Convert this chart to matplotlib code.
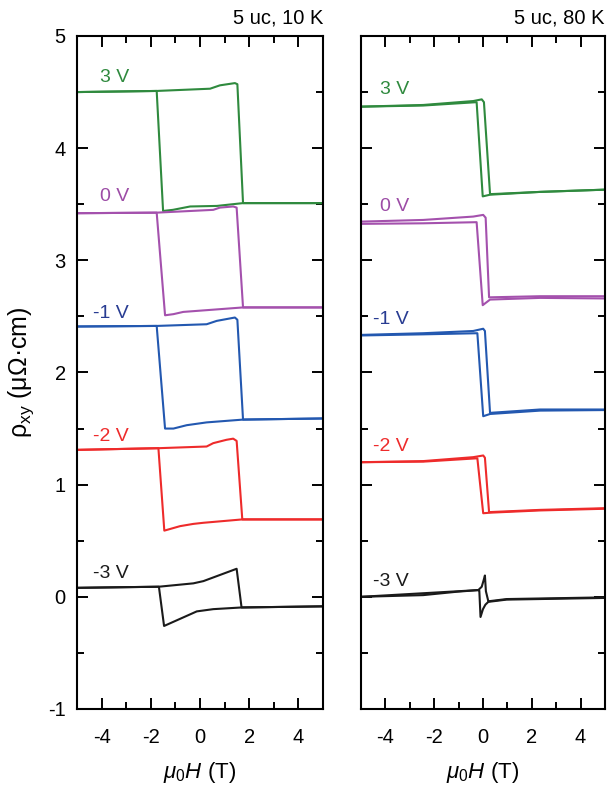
import numpy as np
import matplotlib
matplotlib.use("Agg")
import matplotlib.pyplot as plt
from matplotlib.ticker import MultipleLocator

plt.rcParams['font.family'] = ['Liberation Sans', 'DejaVu Sans']
plt.rcParams['mathtext.fontset'] = 'custom'
plt.rcParams['mathtext.rm'] = 'Liberation Sans'
plt.rcParams['mathtext.it'] = 'Liberation Sans:italic'
plt.rcParams['mathtext.bf'] = 'Liberation Sans:bold'
plt.rcParams['axes.unicode_minus'] = False

gates = ["3 V", "0 V", "-1 V", "-2 V", "-3 V"]
line_colors = ["#2f8a3e", "#a451ad", "#2358b0", "#ee2b2b", "#1a1a1a"]
text_colors = ["#2f8a3e", "#9c4ca6", "#283c92", "#ee2b2b", "#1a1a1a"]

# ---- 5 uc, 10 K : sweep up (-5 -> +5) and sweep down (+5 -> -5)
h10_up = [
    [-5, -1.76, 0.41, 0.81, 1.42, 1.52, 1.75, 5],
    [-5, -1.76, 0.54, 0.81, 1.35, 1.49, 1.75, 5],
    [-5, -1.76, 0.27, 0.68, 1.42, 1.52, 1.75, 5],
    [-5, -1.69, 0.27, 0.54, 1.08, 1.35, 1.49, 1.72, 5],
    [-5, -1.67, -0.27, 0.14, 1.49, 1.69, 5],
]
r10_up = [
    [4.50, 4.51, 4.53, 4.56, 4.58, 4.57, 3.51, 3.51],
    [3.42, 3.425, 3.45, 3.47, 3.48, 3.47, 2.58, 2.58],
    [2.41, 2.415, 2.43, 2.46, 2.49, 2.47, 1.58, 1.59],
    [1.31, 1.325, 1.34, 1.37, 1.40, 1.41, 1.39, 0.69, 0.69],
    [0.08, 0.09, 0.12, 0.14, 0.25, -0.095, -0.085],
]
h10_dn = [
    [5, 1.75, 0.69, -0.4, -1.1, -1.5, -1.76, -5],
    [5, 1.75, 0.54, -0.68, -1.08, -1.42, -1.76, -5],
    [5, 1.75, 0.27, -0.54, -1.08, -1.42, -1.76, -5],
    [5, 1.72, 0.14, -0.27, -0.81, -1.29, -1.45, -1.69, -5],
    [5, 1.69, 0.54, -0.13, -1.46, -1.67, -5],
]
r10_dn = [
    [3.51, 3.51, 3.485, 3.48, 3.45, 3.44, 4.51, 4.50],
    [2.58, 2.58, 2.56, 2.54, 2.52, 2.51, 3.425, 3.42],
    [1.59, 1.58, 1.555, 1.53, 1.50, 1.50, 2.415, 2.41],
    [0.69, 0.69, 0.66, 0.65, 0.63, 0.60, 0.59, 1.325, 1.31],
    [-0.085, -0.095, -0.11, -0.13, -0.26, 0.09, 0.08],
]

# ---- 5 uc, 80 K
h80_up = [
    [-5, -2.45, -0.4, -0.05, 0.04, 0.29, 2.34, 5],
    [-5, -2.45, -0.4, 0.01, 0.11, 0.25, 2.34, 5],
    [-5, -2.45, -0.4, 0.01, 0.08, 0.29, 2.34, 5],
    [-5, -2.45, -0.4, 0.01, 0.08, 0.25, 2.34, 5],
    [-5, -2.45, -1.08, -0.19, -0.05, 0.03, 0.08, 0.12, 0.22, 0.97, 5],
]
r80_up = [
    [4.37, 4.385, 4.42, 4.435, 4.41, 3.59, 3.61, 3.63],
    [3.345, 3.36, 3.39, 3.405, 3.38, 2.67, 2.68, 2.68],
    [2.335, 2.35, 2.37, 2.39, 2.37, 1.64, 1.67, 1.67],
    [1.20, 1.21, 1.245, 1.26, 1.24, 0.755, 0.775, 0.79],
    [0.0, 0.015, 0.045, 0.06, 0.09, 0.15, 0.19, 0.05, -0.04, -0.02, -0.005],
]
h80_dn = [
    [5, 2.34, 0.29, -0.01, -0.26, -2.45, -5],
    [5, 2.34, 0.29, -0.01, -0.26, -2.45, -5],
    [5, 2.34, 0.29, 0.01, -0.23, -2.45, -5],
    [5, 2.34, 0.29, 0.01, -0.23, -2.45, -5],
    [5, 0.97, 0.22, 0.1, 0.0, -0.1, -0.15, -0.19, -5],
]
r80_dn = [
    [3.63, 3.61, 3.585, 3.57, 4.41, 4.38, 4.37],
    [2.66, 2.665, 2.65, 2.60, 3.34, 3.33, 3.325],
    [1.665, 1.66, 1.63, 1.61, 2.35, 2.34, 2.33],
    [0.785, 0.77, 0.75, 0.745, 1.235, 1.205, 1.20],
    [-0.01, -0.025, -0.045, -0.07, -0.11, -0.18, 0.055, 0.06, 0.0],
]

# label anchors (left edge, vertical centre) in data coords
lab10 = [(-4.07, 4.63), (-4.07, 3.57), (-4.35, 2.53), (-4.35, 1.43), (-4.35, 0.21)]
lab80 = [(-4.22, 4.52), (-4.22, 3.48), (-4.5, 2.47), (-4.5, 1.34), (-4.5, 0.14)]


def panel(ax, hup, rup, hdn, rdn, labs, title, show_y):
    for i in range(len(gates)):
        ax.plot(hup[i], rup[i], "-", color=line_colors[i], lw=1.5)
        ax.plot(hdn[i], rdn[i], "-", color=line_colors[i], lw=1.5)
        ax.text(labs[i][0], labs[i][1], gates[i], color=text_colors[i],
                fontsize=14, ha="left", va="center")
    ax.set_xlim([-5, 5])
    ax.set_ylim([-1, 5])
    ax.xaxis.set_major_locator(MultipleLocator(2))
    ax.xaxis.set_minor_locator(MultipleLocator(1))
    ax.yaxis.set_major_locator(MultipleLocator(1))
    ax.yaxis.set_minor_locator(MultipleLocator(0.5))
    ax.tick_params(which="both", direction="in", top=True, right=True,
                   width=1.4, labelsize=14.5)
    ax.tick_params(which="major", length=8)
    ax.tick_params(which="minor", length=5)
    ax.tick_params(axis="x", pad=14)
    ax.tick_params(axis="y", pad=8, labelleft=show_y)
    for s in ax.spines.values():
        s.set_linewidth(1.5)
    ax.text(1.0, 1.012, title, transform=ax.transAxes, ha="right",
            va="bottom", fontsize=14.5)
    ax.set_xlabel(r"$\mathit{\mu}_{\mathit{0}}\mathit{H}$ (T)", fontsize=16,
                  labelpad=9)


fig = plt.figure(figsize=[6.11, 7.91], dpi=100)
ax1 = fig.add_axes([0.126, 0.1037, 0.4026, 0.8508])
ax2 = fig.add_axes([0.5908, 0.1037, 0.3993, 0.8508])

panel(ax1, h10_up, r10_up, h10_dn, r10_dn, lab10, "5 uc, 10 K", True)
panel(ax2, h80_up, r80_up, h80_dn, r80_dn, lab80, "5 uc, 80 K", False)

ax1.set_ylabel(r"ρ$_{\mathrm{xy}}$ (μΩ·cm)", fontsize=18, labelpad=9)

fig.savefig("out.png", dpi=100)
